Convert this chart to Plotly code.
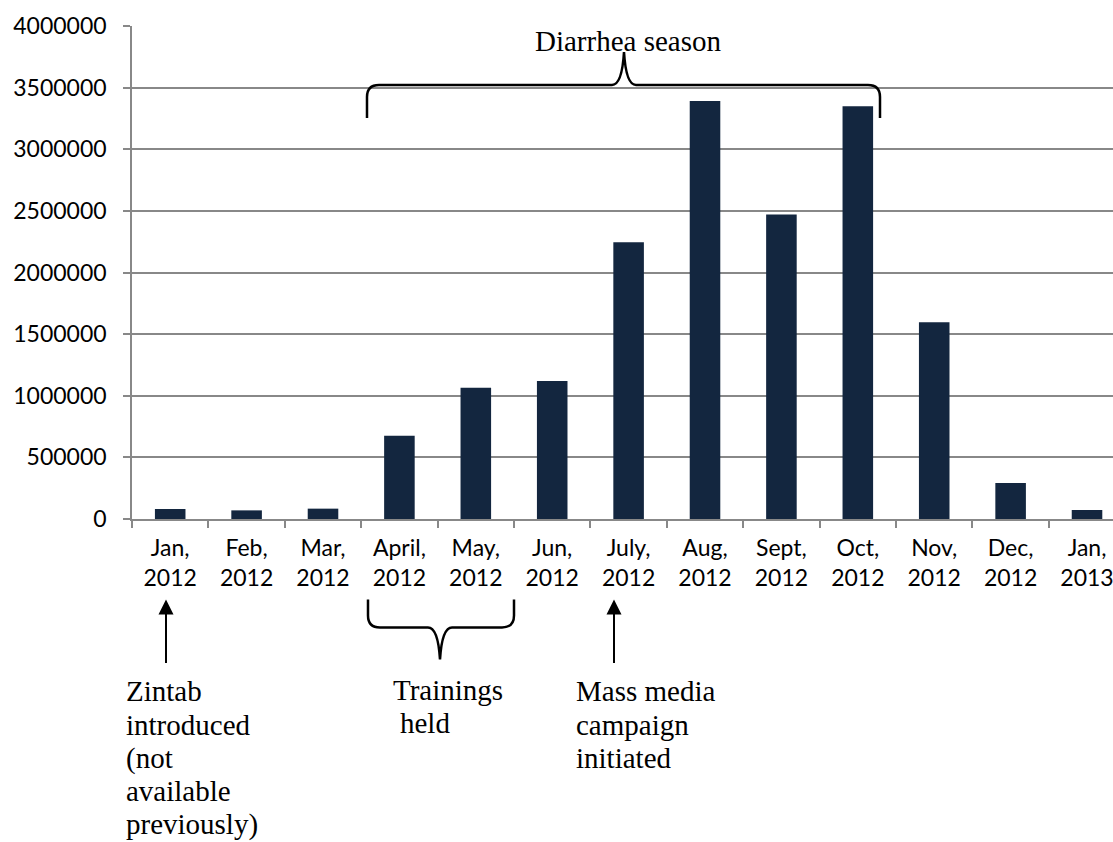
import plotly.graph_objects as go

# ---- data ----
months = ["Jan,<br>2012", "Feb,<br>2012", "Mar,<br>2012", "April,<br>2012", "May,<br>2012",
          "Jun,<br>2012", "July,<br>2012", "Aug,<br>2012", "Sept,<br>2012", "Oct,<br>2012",
          "Nov,<br>2012", "Dec,<br>2012", "Jan,<br>2013"]
values = [81000, 70000, 84000, 675000, 1065000, 1119000, 2246000, 3392000, 2470000,
          3349000, 1597000, 292000, 73000]
y_ticks = [0, 500000, 1000000, 1500000, 2000000, 2500000, 3000000, 3500000, 4000000]

zintab_lines = ["Zintab", "introduced", "(not", "available", "previously)"]
training_lines = ["Trainings", "held"]
media_lines = ["Mass media", "campaign", "initiated"]
season_label = "Diarrhea season"

# ---- layout geometry (pixels) ----
W, H = 1113, 842
L, T = 132, 26
PW = 981
PH = 493.5
B = H - T - PH


def px(x):
    return (x - L) / PW


def py(y):
    return (T + PH - y) / PH


fig = go.Figure()
fig.add_trace(go.Bar(
    x=months, y=values, width=0.4,
    marker=dict(color="#13263f", line=dict(width=0)),
    showlegend=False,
))

grey = "#888888"
tickfont = dict(family="Lato", size=23, color="#000000")
serif = "Liberation Serif"

shapes = []
top_brace = [(367, 118), "L", (367, 97), "Q", (367, 85), (379, 85), "L", (612, 85),
             "Q", (622, 85), (624, 52), "Q", (626, 85), (636, 85), "L", (868, 85),
             "Q", (880, 85), (880, 97), "L", (880, 118)]
bot_brace = [(368, 600), "L", (368, 616), "Q", (368, 628), (380, 628), "L", (428, 628),
             "Q", (438, 628), (440, 660), "Q", (442, 628), (452, 628), "L", (502, 628),
             "Q", (514, 628), (514, 616), "L", (514, 600)]


def to_path(seq):
    out = "M"
    for s in seq:
        if isinstance(s, str):
            out += " " + s
        else:
            out += " %.5f,%.5f" % (px(s[0]), py(s[1]))
    return out


for br in (top_brace, bot_brace):
    shapes.append(dict(type="path", xref="paper", yref="paper", path=to_path(br),
                       line=dict(color="#000000", width=2.5)))

annotations = []
# arrows
for ax_x in (166, 614):
    annotations.append(dict(xref="paper", yref="paper", x=px(ax_x), y=py(600),
                            ax=0, ay=65, showarrow=True, arrowhead=2, arrowsize=1.5,
                            arrowwidth=2, arrowcolor="#000000", text=""))

sfont = dict(family=serif, size=29, color="#000000")


def add_lines(lines, x_left, y_centers):
    for t, yc in zip(lines, y_centers):
        annotations.append(dict(xref="paper", yref="paper", x=px(x_left), y=py(yc),
                                xanchor="left", yanchor="middle", text=t,
                                showarrow=False, font=sfont))


add_lines(zintab_lines, 124, [692, 725.5, 759, 792, 825.5])
add_lines(training_lines[:1], 391, [691])
add_lines(training_lines[1:], 398, [724])
add_lines(media_lines, 574, [692, 725.5, 759])

annotations.append(dict(xref="paper", yref="paper", x=px(628), y=py(41),
                        xanchor="center", yanchor="middle", text=season_label,
                        showarrow=False, font=sfont))

fig.update_layout(
    width=W, height=H,
    margin=dict(l=L, r=W - L - PW, t=T, b=B, pad=0),
    paper_bgcolor="white", plot_bgcolor="white",
    bargap=0.6,
    shapes=shapes,
    annotations=annotations,
    xaxis=dict(
        type="category", range=[-0.5, 12.34], showgrid=False,
        showline=True, linecolor=grey, linewidth=1.5,
        ticks="outside", ticklen=7, tickcolor=grey, tickwidth=1.5,
        tickson="boundaries", tickfont=tickfont, ticklabelstandoff=8,
        automargin=False, fixedrange=True,
    ),
    yaxis=dict(
        range=[0, 4000000], tickvals=y_ticks, tickformat="d",
        showgrid=True, gridcolor=grey, gridwidth=1.5,
        showline=True, linecolor=grey, linewidth=1.5,
        ticks="outside", ticklen=7, tickcolor=grey, tickwidth=1.5,
        tickfont=tickfont, ticklabelstandoff=12, zeroline=False,
        automargin=False, fixedrange=True,
    ),
)

fig.write_html("out.html")
